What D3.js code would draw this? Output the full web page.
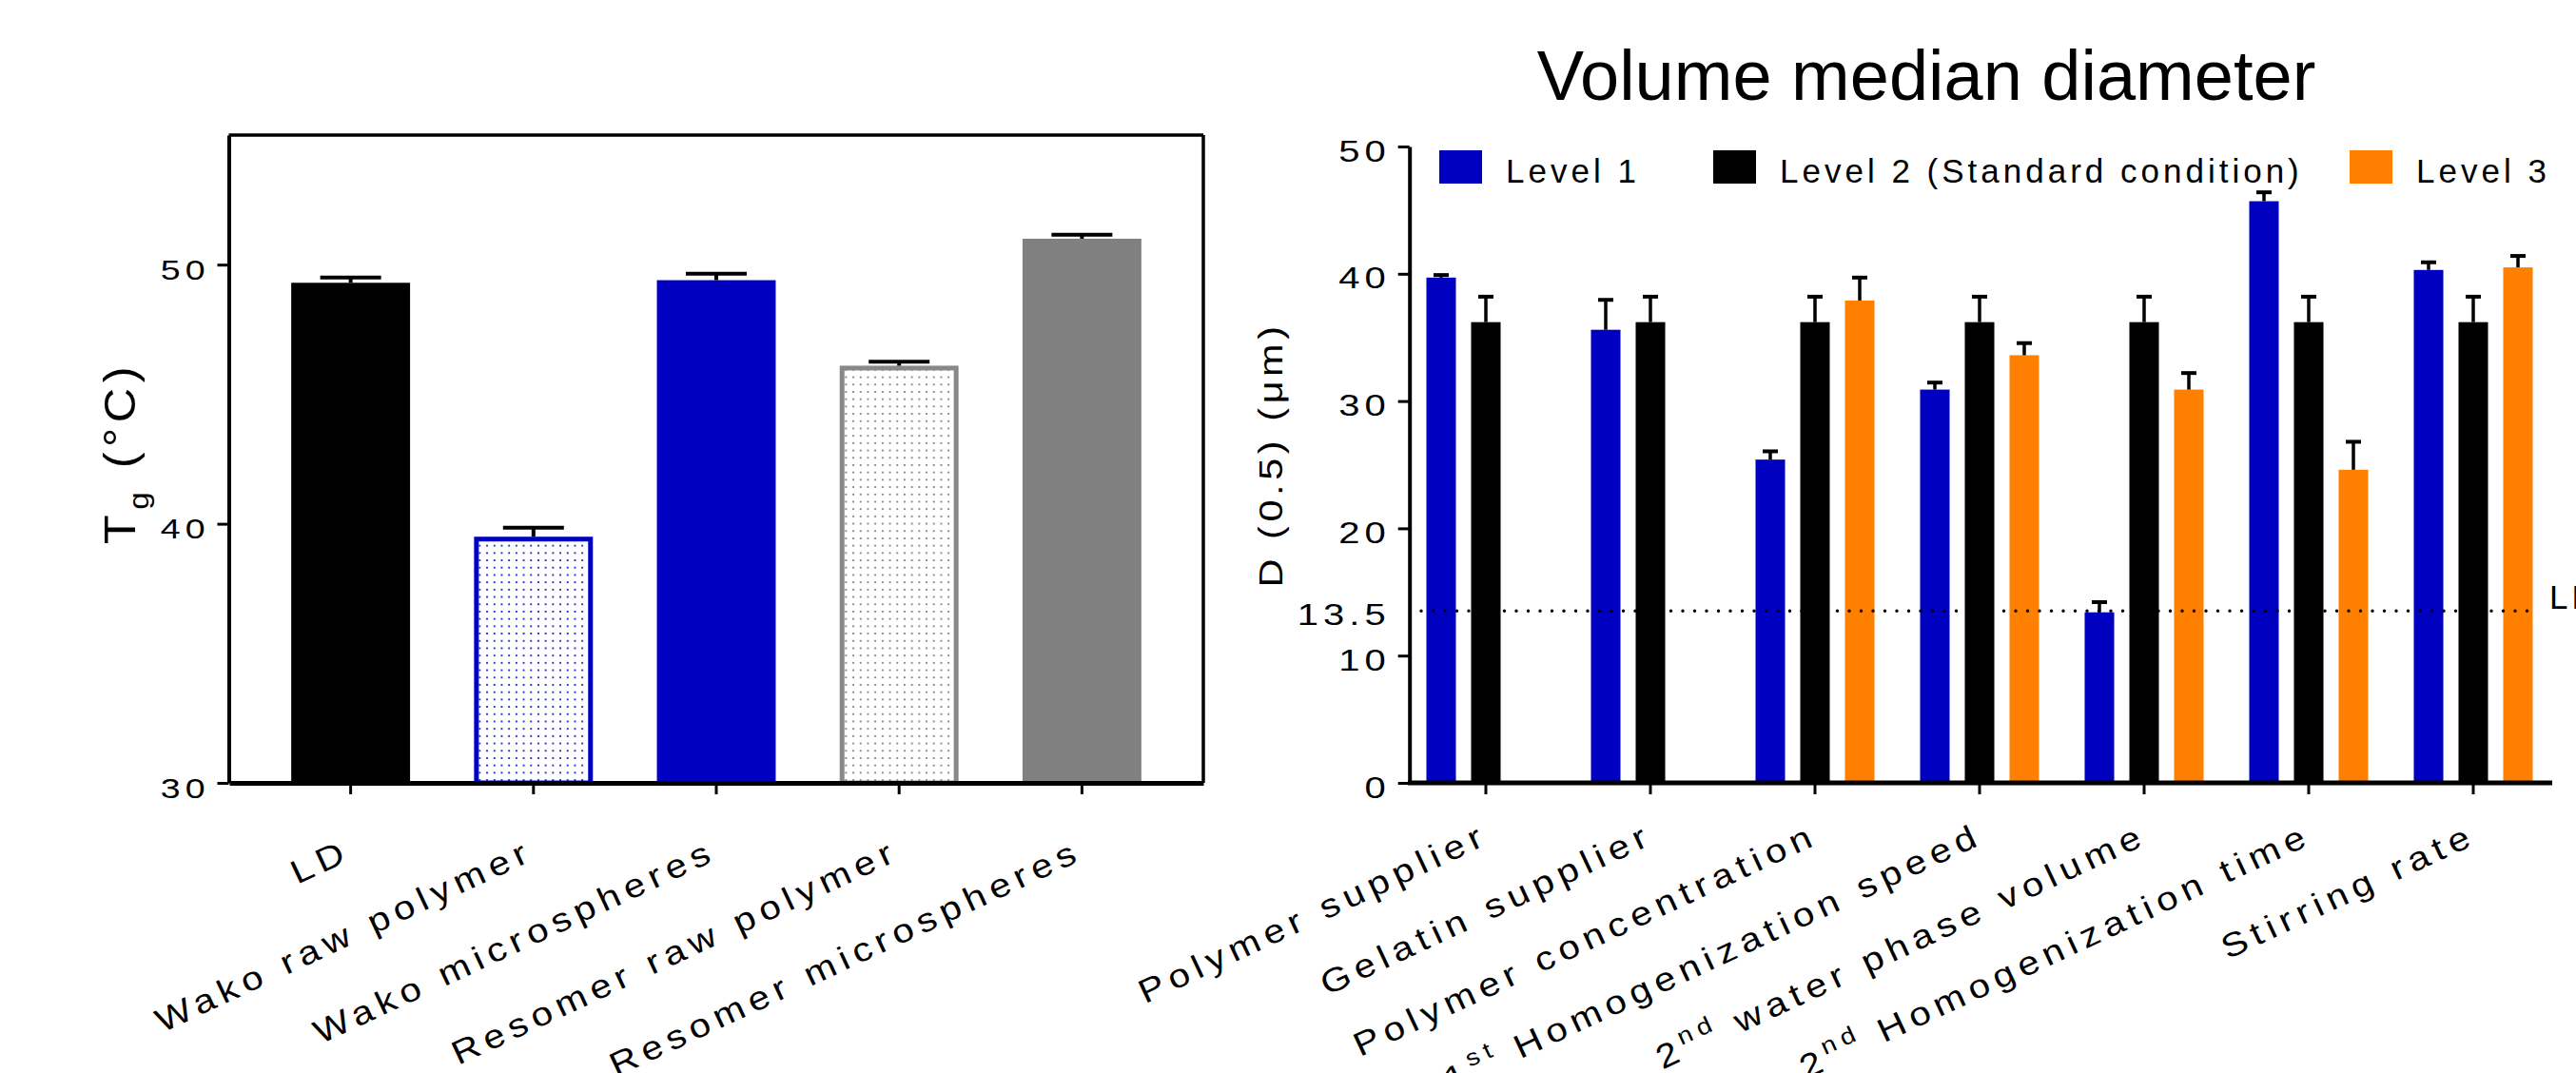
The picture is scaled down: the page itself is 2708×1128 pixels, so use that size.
<!DOCTYPE html>
<html>
<head>
<meta charset="utf-8">
<script src="https://cdn.jsdelivr.net/npm/d3@7/dist/d3.min.js"></script>
<style>
  body { margin: 0; background: #fff; }
  svg { display: block; }
  text { font-family: Arial, "Liberation Sans", Helvetica, sans-serif; fill: #000; }
</style>
</head>
<body>
<svg id="chart" width="2708" height="1128"></svg>
<script>
'use strict';
// ---- left chart: glass transition temperature
const tgCategories = ["LD", "Wako raw polymer", "Wako microspheres", "Resomer raw polymer", "Resomer microspheres"];
const tgValues = [49.3, 39.5, 49.4, 46.1, 51.0];
const tgErrors = [0.2, 0.35, 0.25, 0.15, 0.15];
const tgTicks = [30, 40, 50];

// ---- right chart: volume median diameter
const factors = ["Polymer supplier", "Gelatin supplier", "Polymer concentration", "1st Homogenization speed",
                 "2nd water phase volume", "2nd Homogenization time", "Stirring rate"];
const levels = ["Level 1", "Level 2 (Standard condition)", "Level 3"];
const level1 = [39.7, 35.6, 25.4, 30.9, 13.4, 45.7, 40.3];
const level1Err = [0.2, 2.35, 0.65, 0.55, 0.8, 0.7, 0.6];
const level2 = [36.2, 36.2, 36.2, 36.2, 36.2, 36.2, 36.2];
const level2Err = [2.0, 2.0, 2.0, 2.0, 2.0, 2.0, 2.0];
const level3 = [null, null, 37.9, 33.6, 30.9, 24.6, 40.5];
const level3Err = [null, null, 1.8, 0.95, 1.3, 2.2, 0.9];
const dTicks = [0, 10, 20, 30, 40, 50];
const ldLimit = 13.5;

const BLUE = '#0000c0', ORANGE = '#ff8000', GREY = '#808080';
const levelColors = [BLUE, '#000', ORANGE];
const WIDE = 1.15;   // the original lettering is a bit wider than Arial

const svg = d3.select('#chart');
const defs = svg.append('defs');
function dots(id, color) {
  const p = defs.append('pattern').attr('id', id).attr('patternUnits', 'userSpaceOnUse')
    .attr('width', 7.7).attr('height', 7.7);
  p.append('rect').attr('width', 7.7).attr('height', 7.7).attr('fill', '#fff');
  p.append('circle').attr('cx', 3.85).attr('cy', 3.85).attr('r', 1.05).attr('fill', color);
}
dots('dotBlue', BLUE);
dots('dotGrey', '#707070');

// label with optional ordinal superscript ("1st ...", "2nd ...")
function richLabel(sel, label, size) {
  const m = label.match(/^(\d)(st|nd|rd|th) (.*)$/);
  if (!m) { sel.text(label); return; }
  sel.append('tspan').text(m[1]);
  sel.append('tspan').attr('font-size', size * 0.7).attr('dy', -size * 0.42).text(m[2]);
  sel.append('tspan').attr('dy', size * 0.42).text(' ' + m[3]);
}

function styleAxis(g, domainW, tickW) {
  g.select('.domain').attr('stroke-width', domainW).attr('stroke', '#000');
  g.selectAll('.tick line').attr('stroke-width', tickW).attr('stroke', '#000');
}

// widen the y tick labels horizontally
function wideTicks(g, size, dy) {
  g.selectAll('.tick text').each(function () {
    const t = d3.select(this), x0 = +t.attr('x');
    t.attr('x', 0).attr('transform', `translate(${x0},0) scale(1.25,1)`)
     .attr('fill', '#000').attr('font-size', size).attr('letter-spacing', 4).attr('dy', dy);
  });
}

// ================= LEFT CHART =================
{
  const x = d3.scaleBand().domain(tgCategories).range([241, 1265]).paddingInner(0.35).paddingOuter(0.339);
  const y = d3.scaleLinear().domain([30, 55]).range([823, 142]);
  const g = svg.append('g');

  const fills = ['#000', 'url(#dotBlue)', BLUE, 'url(#dotGrey)', GREY];
  const strokes = [null, BLUE, null, '#888', null];
  const sw = 5;

  tgCategories.forEach((c, i) => {
    const r = g.append('rect').attr('fill', fills[i]);
    if (strokes[i]) {
      r.attr('x', x(c) + sw / 2).attr('y', y(tgValues[i]) + sw / 2)
       .attr('width', x.bandwidth() - sw).attr('height', y(30) - y(tgValues[i]) - sw / 2)
       .attr('stroke', strokes[i]).attr('stroke-width', sw);
    } else {
      r.attr('x', x(c)).attr('y', y(tgValues[i]))
       .attr('width', x.bandwidth()).attr('height', y(30) - y(tgValues[i]));
    }
    // error bar (upper only)
    const cx = x(c) + x.bandwidth() / 2, top = y(tgValues[i] + tgErrors[i]);
    g.append('line').attr('x1', cx).attr('x2', cx).attr('y1', y(tgValues[i])).attr('y2', top)
      .attr('stroke', '#000').attr('stroke-width', 4);
    g.append('line').attr('x1', cx - 32).attr('x2', cx + 32).attr('y1', top).attr('y2', top)
      .attr('stroke', '#000').attr('stroke-width', 4);
  });

  // frame
  g.append('line').attr('x1', 240.5).attr('x2', 1265).attr('y1', y(55)).attr('y2', y(55))
    .attr('stroke', '#000').attr('stroke-width', 3.5);
  g.append('line').attr('x1', 1265).attr('x2', 1265).attr('y1', y(55)).attr('y2', y(30))
    .attr('stroke', '#000').attr('stroke-width', 3.5);

  const ya = g.append('g').attr('transform', 'translate(240.5,0)')
    .call(d3.axisLeft(y).tickValues(tgTicks).tickSize(12).tickSizeOuter(0).tickPadding(8));
  styleAxis(ya, 4, 3);
  wideTicks(ya, 30, '0.5em');

  const xa = g.append('g').attr('transform', 'translate(0,823)')
    .call(d3.axisBottom(x).tickSize(12).tickSizeOuter(0).tickFormat(''));
  styleAxis(xa, 5, 3);

  tgCategories.forEach(c => {
    const cx = x(c) + x.bandwidth() / 2;
    g.append('text').attr('transform', `translate(${cx + 2},903) rotate(-25) scale(${WIDE},1)`)
      .attr('text-anchor', 'end').attr('font-size', 35).attr('letter-spacing', 5.5).text(c);
  });

  const yl = g.append('text').attr('transform', `translate(142,476) rotate(-90) scale(1.1,1)`)
    .attr('text-anchor', 'middle').attr('font-size', 46).attr('letter-spacing', 5);
  yl.append('tspan').text('T');
  yl.append('tspan').attr('font-size', 30).attr('dy', 14).text('g');
  yl.append('tspan').attr('dy', -14).text(' (°C)');
}

// ================= RIGHT CHART =================
{
  const x = d3.scaleBand().domain(factors).range([1475.5, 2686.5]);
  const xl = d3.scaleBand().domain(levels).range([-70.5, 70.5]).paddingInner(0.34).paddingOuter(0.17);
  const y = d3.scaleLinear().domain([0, 50]).range([823, 154]);
  const g = svg.append('g');
  const series = [[level1, level1Err], [level2, level2Err], [level3, level3Err]];

  factors.forEach((f, i) => {
    const c = x(f) + x.bandwidth() / 2;
    levels.forEach((l, j) => {
      const v = series[j][0][i], e = series[j][1][i];
      if (v == null) return;
      const bx = c + xl(l);
      g.append('rect').attr('x', bx).attr('y', y(v)).attr('width', xl.bandwidth())
        .attr('height', y(0) - y(v)).attr('fill', levelColors[j]);
      const cx = bx + xl.bandwidth() / 2, top = y(v + e);
      g.append('line').attr('x1', cx).attr('x2', cx).attr('y1', y(v)).attr('y2', top)
        .attr('stroke', '#000').attr('stroke-width', 3.5);
      g.append('line').attr('x1', cx - 8).attr('x2', cx + 8).attr('y1', top).attr('y2', top)
        .attr('stroke', '#000').attr('stroke-width', 4);
    });
  });

  // LD limit line
  g.append('line').attr('x1', 1494).attr('x2', 2668).attr('y1', y(ldLimit)).attr('y2', y(ldLimit))
    .attr('stroke', '#000').attr('stroke-width', 3.5).attr('stroke-linecap', 'round')
    .attr('stroke-dasharray', '0 12.5');
  g.append('text').attr('x', 2680).attr('y', y(ldLimit) - 2).attr('font-size', 35)
    .attr('letter-spacing', 4).text('LD');

  const ya = g.append('g').attr('transform', 'translate(1481.7,0)')
    .call(d3.axisLeft(y).tickValues(dTicks).tickSize(12).tickSizeOuter(0).tickPadding(8));
  styleAxis(ya, 4, 3);
  wideTicks(ya, 32, '0.47em');
  // 13.5 label without tick mark
  g.append('text').attr('transform', `translate(${1481.7 - 20},${y(ldLimit)}) scale(1.25,1)`)
    .attr('dy', '0.47em').attr('text-anchor', 'end').attr('font-size', 32)
    .attr('letter-spacing', 4).text('13.5');

  const xa = g.append('g').attr('transform', 'translate(0,823)')
    .call(d3.axisBottom(x).tickSize(12).tickSizeOuter(0).tickFormat(''));
  styleAxis(xa, 5, 3);
  xa.select('.domain').attr('d', 'M1480,0H2683');

  factors.forEach(f => {
    const cx = x(f) + x.bandwidth() / 2;
    const t = g.append('text').attr('transform', `translate(${cx + 5},886) rotate(-25) scale(${WIDE},1)`)
      .attr('text-anchor', 'end').attr('font-size', 35).attr('letter-spacing', 5.5);
    richLabel(t, f, 35);
  });

  g.append('text').attr('transform', `translate(1348,478) rotate(-90) scale(${WIDE},1)`)
    .attr('text-anchor', 'middle').attr('font-size', 36).attr('letter-spacing', 4)
    .text('D (0.5) (\u03bcm)');

  g.append('text').attr('x', 2025).attr('y', 105).attr('text-anchor', 'middle')
    .attr('font-size', 74).text('Volume median diameter');

  // legend
  const legendX = [1513, 1801, 2470];
  levels.forEach((l, j) => {
    g.append('rect').attr('x', legendX[j]).attr('y', 158).attr('width', 45).attr('height', 35)
      .attr('fill', levelColors[j]);
    g.append('text').attr('x', legendX[j] + 70).attr('y', 192).attr('font-size', 35)
      .attr('letter-spacing', 4).text(l);
  });
}
</script>
</body>
</html>
